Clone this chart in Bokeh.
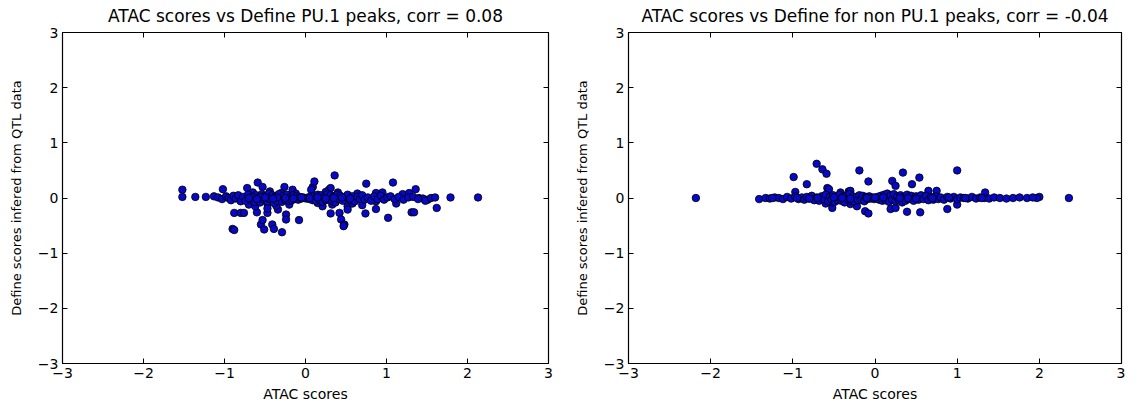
from bokeh.plotting import figure
from bokeh.layouts import row
from bokeh.models import LinearAxis, FixedTicker, Range1d, CustomLabelingPolicy
from bokeh.embed import file_html
from bokeh.resources import INLINE

# ---------------- data ----------------
titles = ["ATAC scores vs Define PU.1 peaks, corr = 0.08",
          "ATAC scores vs Define for non PU.1 peaks, corr = -0.04"]
x_label = "ATAC scores"
y_label = "Define scores infered from QTL data"
ticks = [-3, -2, -1, 0, 1, 2, 3]
tick_labels = ["\u22123", "\u22122", "\u22121", "0", "1", "2", "3"]

pu1_x = [-1.52, -1.52, -1.36, -1.23, -1.13, -1.02, -0.88, -0.80, -0.76, -0.90,
         -0.88, -0.72, -0.59, -0.53, -0.55, -0.60, -0.53, -0.47, -0.51, -0.41,
         -0.39, -0.29, -0.26, -0.24, -0.24, -0.16, -0.08, -0.34, -0.47, -0.47,
         0.09, 0.11, 0.07, 0.36, 0.29, 0.21, 0.31, 0.42, 0.44, 0.48,
         0.47, 0.52, 0.52, 0.75, 1.08, 1.36, 0.74, 0.87, 0.87, 1.02,
         1.31, 1.34, 1.62, 1.51, 1.79, 2.13, 0.87, 0.31, 1.40, 1.45,
         -0.70, -0.65, -0.62, -0.44, -0.36, -0.30, -0.20, -0.12, 0.15, 0.25,
         0.33, 0.40, 0.58, 0.64, 0.70, 0.95, 1.12, 1.20, 1.28, 1.48,
         -1.08, -1.03, -0.98, -0.95, -0.92, -0.89, -0.86, -0.83, -0.80, -0.77,
         -0.74, -0.71, -0.68, -0.66, -0.63, -0.61, -0.58, -0.56, -0.54, -0.51,
         -0.49, -0.47, -0.45, -0.43, -0.41, -0.39, -0.37, -0.35, -0.33, -0.31,
         -0.29, -0.27, -0.25, -0.23, -0.21, -0.19, -0.17, -0.15, -0.13, -0.11,
         -0.09, -0.07, -0.05, -0.03, -0.01, 0.01, 0.03, 0.05, 0.07, 0.09,
         0.11, 0.13, 0.15, 0.17, 0.19, 0.21, 0.23, 0.25, 0.27, 0.29,
         0.31, 0.33, 0.35, 0.37, 0.39, 0.41, 0.43, 0.46, 0.49, 0.52,
         0.55, 0.58, 0.61, 0.64, 0.67, 0.70, 0.73, 0.77, 0.81, 0.85,
         0.89, 0.93, 0.97, 1.01, 1.05, 1.10, 1.15, 1.21, 1.27, 1.33,
         1.39, 1.55, 1.60, -0.65, -0.55, -0.45, -0.35, -0.25, -0.15, -0.05,
         0.05, 0.15, 0.25, 0.35, 0.45, 0.55, -0.70, -0.60, -0.50, -0.40]
pu1_y = [0.15, 0.02, 0.02, 0.02, 0.03, 0.16, -0.27, -0.27, -0.27, -0.56,
         -0.58, 0.18, 0.28, 0.20, -0.48, -0.26, -0.40, -0.27, -0.57, -0.48,
         -0.56, -0.62, 0.20, -0.30, -0.39, 0.15, -0.40, -0.21, -0.10, -0.19,
         0.20, 0.30, 0.15, 0.41, 0.15, -0.15, -0.28, -0.27, -0.39, -0.48,
         -0.51, -0.15, -0.21, 0.26, 0.28, 0.16, -0.28, -0.20, -0.06, -0.36,
         -0.26, -0.26, -0.18, -0.03, 0.01, 0.01, 0.09, 0.18, 0.00, -0.01,
         -0.12, 0.10, -0.15, 0.12, -0.14, 0.09, -0.12, 0.08, -0.09, 0.11,
         -0.12, 0.10, -0.10, 0.08, -0.13, 0.10, -0.10, 0.07, 0.09, -0.05,
         0.01, -0.02, 0.03, 0.00, -0.04, 0.04, -0.01, 0.05, -0.06, 0.02,
         -0.05, 0.06, -0.03, 0.02, -0.07, 0.05, 0.00, -0.08, 0.07, -0.03,
         0.04, -0.06, 0.08, -0.02, 0.05, -0.09, 0.03, -0.05, 0.07, -0.01,
         -0.07, 0.04, -0.03, 0.06, -0.05, 0.02, -0.04, 0.05, -0.02, 0.03,
         -0.03, 0.02, -0.01, 0.01, 0.00, -0.01, 0.01, -0.02, 0.03, -0.04,
         0.04, -0.05, 0.06, -0.03, 0.05, -0.07, 0.02, -0.04, 0.07, -0.02,
         0.05, -0.06, 0.03, -0.08, 0.06, -0.02, 0.04, -0.05, 0.02, 0.06,
         -0.04, 0.03, -0.06, 0.02, -0.02, 0.05, -0.03, 0.01, -0.05, 0.03,
         -0.02, 0.04, -0.03, 0.01, 0.03, -0.02, 0.02, -0.03, 0.01, 0.02,
         -0.02, 0.00, 0.01, 0.01, 0.02, -0.01, 0.01, 0.00, -0.01, 0.01,
         0.00, 0.01, -0.01, 0.00, 0.01, -0.01, 0.00, -0.02, 0.01, -0.01]

non_x = [-2.18, -1.41, -0.71, -0.64, -0.59, -0.99, -0.83, -0.97, -0.58, -0.52,
         -0.52, -0.19, -0.08, -0.12, -0.08, -0.22, -0.30, -0.56, -0.42, -0.32,
         0.34, 0.54, 0.21, 0.25, 0.45, 0.19, 0.25, 0.39, 0.55, 0.88,
         1.00, 1.00, 0.65, 0.75, 1.34, 2.36, 2.00, 1.97, -0.60, -0.30,
         -1.33, -1.28, -1.22, -1.17, -1.12, -1.07, -1.02, -0.97, -0.93, -0.89,
         -0.86, -0.83, -0.80, -0.77, -0.74, -0.71, -0.68, -0.65, -0.62, -0.60,
         -0.57, -0.55, -0.53, -0.51, -0.49, -0.47, -0.45, -0.43, -0.41, -0.39,
         -0.37, -0.35, -0.33, -0.31, -0.29, -0.27, -0.25, -0.23, -0.21, -0.19,
         -0.17, -0.15, -0.13, -0.11, -0.09, -0.07, -0.05, -0.03, -0.01, 0.01,
         0.03, 0.05, 0.07, 0.09, 0.11, 0.13, 0.15, 0.17, 0.19, 0.21,
         0.23, 0.25, 0.27, 0.29, 0.31, 0.33, 0.35, 0.37, 0.39, 0.41,
         0.44, 0.47, 0.50, 0.53, 0.56, 0.59, 0.62, 0.65, 0.68, 0.71,
         0.74, 0.77, 0.80, 0.84, 0.88, 0.92, 0.96, 1.00, 1.04, 1.08,
         1.13, 1.18, 1.23, 1.28, 1.33, 1.39, 1.45, 1.52, 1.60, 1.68,
         1.76, 1.85, 1.92, -1.25, -0.95, -0.70, -0.50, -0.30, -0.10, 0.10,
         0.30, 0.50, 0.70, 0.90, 1.10, 1.30, -0.80, -0.40, 0.00, 0.40]
non_y = [0.00, -0.02, 0.62, 0.52, 0.44, 0.38, 0.25, 0.11, 0.18, -0.18,
         -0.08, 0.50, 0.30, -0.24, -0.28, -0.15, -0.11, 0.16, 0.10, 0.12,
         0.46, 0.37, 0.31, 0.22, 0.25, -0.20, -0.18, -0.25, -0.26, -0.20,
         0.50, -0.12, 0.13, 0.13, 0.10, 0.00, 0.02, 0.00, -0.10, 0.13,
         0.00, -0.01, 0.01, 0.00, -0.02, 0.02, -0.01, 0.03, -0.02, 0.01,
         -0.03, 0.02, -0.01, 0.04, -0.04, 0.01, -0.05, 0.03, -0.02, 0.06,
         -0.06, 0.02, -0.03, 0.05, -0.07, 0.01, -0.04, 0.06, -0.05, 0.03,
         -0.08, 0.04, -0.02, 0.07, -0.05, 0.03, -0.06, 0.02, -0.04, 0.05,
         -0.03, 0.04, -0.06, 0.02, -0.02, 0.03, -0.01, 0.01, -0.02, 0.00,
         0.02, -0.03, 0.04, -0.05, 0.06, -0.04, 0.08, -0.07, 0.05, -0.03,
         0.07, -0.06, 0.03, -0.04, 0.05, -0.08, 0.02, -0.05, 0.06, -0.02,
         0.04, -0.05, 0.03, -0.03, 0.05, -0.02, 0.04, -0.04, 0.02, -0.03,
         0.03, -0.02, 0.01, -0.03, 0.02, -0.01, 0.02, -0.02, 0.01, 0.00,
         -0.01, 0.02, -0.01, 0.01, 0.00, -0.01, 0.01, 0.00, -0.01, 0.00,
         0.01, 0.00, 0.01, 0.00, 0.00, 0.00, 0.01, -0.01, 0.00, 0.01,
         0.00, -0.01, 0.00, 0.01, 0.00, 0.00, -0.01, 0.00, 0.01, 0.00]

FONT = "DejaVu Sans"
overrides = {t: lab for t, lab in zip(ticks, tick_labels)}


def make_panel(title, xs, ys, border_left, border_right, frame_w):
    p = figure(frame_width=frame_w, frame_height=331,
               x_range=Range1d(-3, 3), y_range=Range1d(-3, 3),
               output_backend="svg", toolbar_location=None,
               min_border_left=border_left, min_border_right=border_right,
               min_border_top=26, min_border_bottom=35,
               title=title)
    p.title.text_font = FONT
    p.title.text_font_size = "17px"
    p.title.text_font_style = "normal"
    p.title.align = "center"
    p.title.text_color = "black"
    p.title.standoff = 6
    p.xgrid.visible = False
    p.ygrid.visible = False
    p.outline_line_color = "black"
    p.outline_line_width = 1.2
    p.background_fill_color = "white"
    p.border_fill_color = "white"

    for ax, lab in ((p.xaxis[0], x_label), (p.yaxis[0], y_label)):
        ax.ticker = FixedTicker(ticks=ticks)
        ax.major_label_overrides = overrides
        ax.minor_tick_line_color = None
        ax.major_tick_in = 5
        ax.major_tick_out = 0
        ax.axis_line_color = None
        ax.major_tick_line_color = "black"
        ax.major_label_text_font = FONT
        ax.major_label_text_font_size = "14px"
        ax.major_label_text_color = "black"
        ax.axis_label = lab
        ax.axis_label_text_font = FONT
        ax.axis_label_text_font_style = "normal"
        ax.axis_label_text_color = "black"
        ax.major_label_standoff = 4
        ax.axis_label_standoff = 5
    p.xaxis[0].axis_label_text_font_size = "14px"
    p.yaxis[0].axis_label_text_font_size = "13px"
    p.yaxis[0].axis_label_standoff = 11
    p.yaxis[0].major_label_orientation = "horizontal"

    for side in ("above", "right"):
        ax = LinearAxis(ticker=FixedTicker(ticks=ticks))
        ax.major_label_policy = CustomLabelingPolicy(
            code="for (const i of indices) indices.unset(i); return indices")
        ax.major_label_text_font_size = "1px"
        ax.major_label_standoff = 0
        ax.minor_tick_line_color = None
        ax.major_tick_in = 5
        ax.major_tick_out = 0
        ax.axis_line_color = None
        p.add_layout(ax, side)

    p.scatter(xs, ys, size=7.5, fill_color="#0808c8", line_color="black",
              line_width=0.8)
    return p


p1 = make_panel(titles[0], pu1_x, pu1_y, 62, 16, 486)
p2 = make_panel(titles[1], non_x, non_y, 64, 2, 493)
layout = row(p1, p2)

with open("out.html", "w") as f:
    f.write(file_html(layout, INLINE))
